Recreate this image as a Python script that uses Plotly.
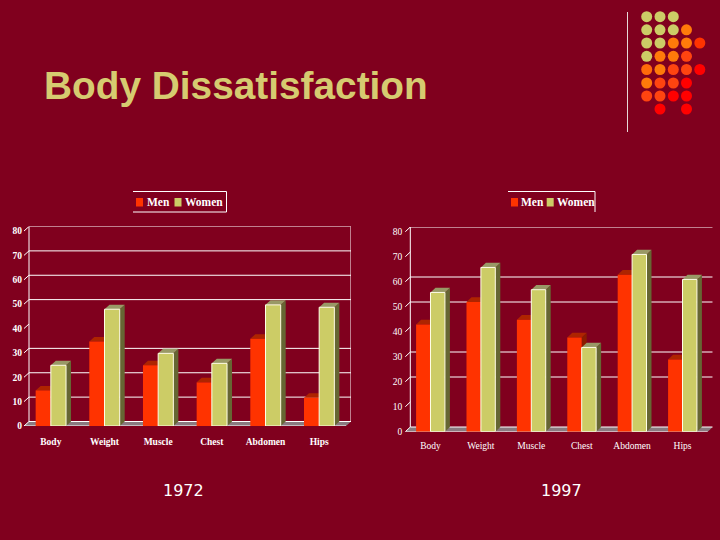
import plotly.graph_objects as go

categories = ["Body", "Weight", "Muscle", "Chest", "Abdomen", "Hips"]
men_1972 = [14.6, 34.7, 24.9, 17.9, 35.8, 11.6]
women_1972 = [24.9, 47.9, 29.8, 25.7, 49.7, 48.7]
men_1997 = [42.9, 51.9, 44.8, 37.7, 62.8, 28.9]
women_1997 = [55.7, 65.7, 56.8, 33.7, 70.9, 60.9]
y_ticks = [0, 10, 20, 30, 40, 50, 60, 70, 80]
grid_1972 = [0, 10, 20, 30, 50, 60, 70, 80]
grid_1997 = [0, 20, 30, 50, 60, 80]
captions = ["1972", "1997"]

BG = "#80001E"
MEN, MEN_TOP, MEN_SIDE = "#FF3300", "#AE2400", "#8A1C00"
WOMEN, WOMEN_TOP, WOMEN_SIDE = "#CCCC66", "#999966", "#666633"
FLOOR = "#8A7A80"
W, H = 720, 540

dot_colors = [
    ["#CCCC66", "#CCCC66", "#CCCC66", None, None],
    ["#CCCC66", "#CCCC66", "#CCCC66", "#FF7A0A", None],
    ["#CCCC66", "#CCCC66", "#FF7A0A", "#FF7A0A", "#FF3300"],
    ["#CCCC66", "#FF7A0A", "#FF7A0A", "#FF4410", None],
    ["#FF6A0A", "#FF7A0A", "#FF4410", "#FF4410", "#FF0000"],
    ["#FF7A0A", "#FF4410", "#FF4410", "#FF0000", None],
    ["#FF4410", "#FF4410", "#FF0000", "#FF0000", None],
    [None, "#FF0000", None, "#FF0000", None],
]

fig = go.Figure()
shapes, annots = [], []


def face(xr, yr, pts, color):
    path = "M" + "L".join(f"{x:.4f},{y:.4f}" for x, y in pts) + "Z"
    shapes.append(dict(type="path", path=path, xref=xr, yref=yr, fillcolor=color,
                       line=dict(width=0), layer="below"))


def seg(xr, yr, x0, y0, x1, y1, color="white", width=1):
    shapes.append(dict(type="line", xref=xr, yref=yr, x0=x0, y0=y0, x1=x1, y1=y1,
                       line=dict(color=color, width=width), layer="below"))


def chart(n, men, women, grid, left, right, base, unit_y, dpx, dpy, bar_w,
          font, standoff, ystandoff, rwall, xticks):
    xr, yr = ("x", "y") if n == 1 else (f"x{n}", f"y{n}")
    unit_x = (right - left - dpx) / 6
    dx, dy = dpx / unit_x, dpy / unit_y
    top = base - (80 * unit_y + dpy)
    sfx = "" if n == 1 else str(n)
    fig.update_layout({
        f"xaxis{sfx}": dict(domain=[left / W, right / W], range=[0, 6 + dx], anchor=yr,
                            tickvals=[i + 0.5 for i in range(6)], ticktext=categories,
                            ticks="", showgrid=False, zeroline=False, showline=False,
                            tickfont=font, ticklabelstandoff=standoff, fixedrange=True),
        f"yaxis{sfx}": dict(domain=[1 - base / H, 1 - top / H], range=[0, 80 + dy], anchor=xr,
                            tickvals=y_ticks, ticks="", showgrid=False, zeroline=False,
                            showline=False, tickfont=font, ticklabelstandoff=ystandoff,
                            fixedrange=True),
    })
    face(xr, yr, [(0, 0), (6, 0), (6 + dx, dy), (dx, dy)], FLOOR)
    for g in grid:
        seg(xr, yr, dx, g + dy, 6 + dx, g + dy)
    seg(xr, yr, dx, dy, dx, 80 + dy)
    if rwall:
        seg(xr, yr, 6 + dx, dy, 6 + dx, 80 + dy)
    seg(xr, yr, -0.0, 0, 6, 0)
    for t in y_ticks:
        seg(xr, yr, -0.3 * dx, t - 0.3 * dy, dx, t + dy)
    for t in xticks:
        seg(xr, yr, t, 0, t, -1.5)
    for vals, off, topc, sidec in ((men, -bar_w, MEN_TOP, MEN_SIDE), (women, 0, WOMEN_TOP, WOMEN_SIDE)):
        for i, v in enumerate(vals):
            a = i + 0.5 + off
            b = a + bar_w
            face(xr, yr, [(b, 0), (b + dx, dy), (b + dx, v + dy), (b, v)], sidec)
            face(xr, yr, [(a, v), (b, v), (b + dx, v + dy), (a + dx, v + dy)], topc)
    xs = [i + 0.5 for i in range(6)]
    fig.add_bar(x=xs, y=men, width=bar_w, offset=-bar_w, xaxis=xr, yaxis=yr, name="Men",
                marker=dict(color=MEN, line=dict(width=0)), showlegend=False, hoverinfo="skip")
    fig.add_bar(x=xs, y=women, width=bar_w, offset=0, xaxis=xr, yaxis=yr, name="Women",
                marker=dict(color=WOMEN, line=dict(color="#FFFFE8", width=1)), showlegend=False,
                hoverinfo="skip")


bold = dict(family="Liberation Serif", size=9.5, color="white", weight="bold")
thin = dict(family="Liberation Serif", size=9.5, color="white")
chart(1, men_1972, women_1972, grid_1972, 24, 351, 426, 2.4375, 5, 4.5, 0.283, bold, 8, 1, True, [2, 3])
chart(2, men_1997, women_1997, grid_1997, 405.3, 712.7, 431.7, 2.5, 5, 4.7, 0.286, thin, 7, 2, False, [2])

# overlay in page pixels: decoration, legends
fig.update_layout(
    xaxis3=dict(domain=[0, 1], range=[0, W], visible=False, anchor="y3", fixedrange=True),
    yaxis3=dict(domain=[0, 1], range=[H, 0], visible=False, anchor="x3", fixedrange=True),
)
dot_x = [646.7, 660, 673.3, 686.5, 699.8]
dot_y = [16.7, 29.8, 43, 56.3, 69.5, 83, 96, 109]
xs, ys, cs = [], [], []
for r, row in enumerate(dot_colors):
    for c, col in enumerate(row):
        if col:
            xs.append(dot_x[c]); ys.append(dot_y[r]); cs.append(col)
fig.add_scatter(x=xs, y=ys, xaxis="x3", yaxis="y3", mode="markers", showlegend=False,
                marker=dict(size=11, color=cs, line=dict(width=0)), hoverinfo="skip")
seg("x3", "y3", 627.5, 12, 627.5, 132, "#E8D8D8", 1)


def legend(x0, x1, y0, y1, sw1, tx1, sw2, tx2, full, size):
    seg("x3", "y3", x0, y0, x1, y0)
    seg("x3", "y3", x1, y0, x1, y1)
    if full:
        seg("x3", "y3", x0, y1, x1, y1)
    for sw, col, tx, name in ((sw1, MEN, tx1, "Men"), (sw2, WOMEN, tx2, "Women")):
        shapes.append(dict(type="rect", xref="x3", yref="y3", x0=sw, x1=sw + 7, y0=198, y1=206.5,
                           fillcolor=col, line=dict(width=0), layer="below"))
        annots.append(dict(x=tx, y=202, xref="x3", yref="y3", text=name, showarrow=False,
                           xanchor="left", yanchor="middle", xshift=-2,
                           font=dict(family="Liberation Serif", size=size, color="white", weight="bold")))


legend(133, 226.5, 191.5, 212, 136, 147, 174.5, 185, True, 11.5)
legend(508, 595, 191.5, 212, 511, 521, 546.7, 557, False, 11.5)

for cap, x in zip(captions, (183, 561)):
    annots.append(dict(x=x, y=490, xref="x3", yref="y3", text=cap, showarrow=False,
                       font=dict(family="DejaVu Sans", size=16, color="white")))

annots.append(dict(x=44, y=85, xref="x3", yref="y3", text="Body Dissatisfaction", showarrow=False,
                   xanchor="left", yanchor="middle", xshift=-2,
                   font=dict(family="Liberation Sans", size=38.8, color="#D6CB70", weight="bold")))

fig.update_layout(
    width=W, height=H, autosize=False,
    margin=dict(l=0, r=0, t=0, b=0, pad=0, autoexpand=False),
    paper_bgcolor=BG, plot_bgcolor="rgba(0,0,0,0)", barmode="overlay", showlegend=False,
    shapes=shapes, annotations=annots,
)
fig.write_html("out.html", config=dict(displayModeBar=False),
               post_script="document.body.style.margin='0';document.body.style.background='%s';" % BG)
